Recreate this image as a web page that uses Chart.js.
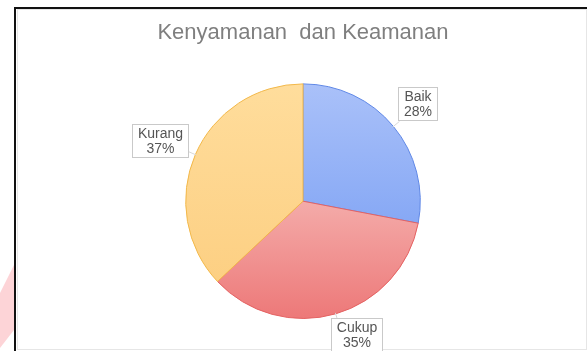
<!DOCTYPE html>
<html><head><meta charset="utf-8">
<script src="https://cdn.jsdelivr.net/npm/chart.js@4/dist/chart.umd.min.js"></script>
<style>
html,body{margin:0;padding:0;background:#fff;overflow:hidden}
#wrap{position:relative;width:587px;height:351px}
#pink{position:absolute;left:0;top:0;width:14px;height:351px;background:#fdd4d7;clip-path:polygon(0 293px,14px 265px,14px 330px,0 348px)}
#frameL{position:absolute;left:14px;top:7px;width:2px;height:344px;background:#111}
#frameT{position:absolute;left:14px;top:7px;width:573px;height:2px;background:#111}
#box{position:absolute;left:17px;top:9px;width:568px;height:339px;border:1px solid #e6e6e6}
canvas{position:absolute;left:0;top:0}
</style></head>
<body>
<div id="wrap">
<div id="pink"></div><div id="box"></div><div id="frameL"></div><div id="frameT"></div>
<canvas id="c" width="587" height="351"></canvas>
</div>
<script>
const categories = ['Baik', 'Cukup', 'Kurang'];
const percentages = [28, 35, 37];
const titleText = 'Kenyamanan  dan Keamanan';

const gradStops = [
  [[0, '#aac1f9'], [1, '#6e97f2']],
  [[0, '#f8d2d0'], [0.5, '#f4aba9'], [1, '#ed7878']],
  [[0, '#ffdd9c'], [1, '#fccd7e']]
];
const borderCols = ['#6088e6', '#e46262', '#f2b84a'];
// small label placement nudges (px), style only
const labelNudge = [[0, -3], [13, -7], [0, 1]];

function sliceFill(context) {
  const chart = context.chart;
  const a = chart.chartArea;
  if (!a) return '#ccc';
  const g = chart.ctx.createLinearGradient(0, a.top, 0, a.bottom);
  gradStops[context.dataIndex].forEach(s => g.addColorStop(s[0], s[1]));
  return g;
}

const callouts = {
  id: 'callouts',
  afterDatasetsDraw(chart) {
    const ctx = chart.ctx;
    const meta = chart.getDatasetMeta(0);
    ctx.save();
    ctx.font = '14px "Liberation Sans", Arial, sans-serif';
    meta.data.forEach((arc, i) => {
      const p = arc.getProps(['x', 'y', 'startAngle', 'endAngle', 'outerRadius'], true);
      const mid = (p.startAngle + p.endAngle) / 2;
      const c = Math.cos(mid), s = Math.sin(mid);
      const lines = [categories[i], percentages[i] + '%'];
      const tw = Math.max(...lines.map(l => ctx.measureText(l).width));
      const w = Math.round(tw + 11), lh = 15, h = lines.length * lh + 3;
      const d = p.outerRadius + 6 + Math.abs(c) * w / 2 + Math.abs(s) * h / 2;
      const cx = p.x + c * d + labelNudge[i][0], cy = p.y + s * d + labelNudge[i][1];
      const bx = Math.round(cx - w / 2) + 0.5, by = Math.round(cy - h / 2) + 0.5;
      ctx.strokeStyle = '#d8d8d8';
      ctx.lineWidth = 1;
      ctx.beginPath();
      ctx.moveTo(p.x + c * (p.outerRadius - 1), p.y + s * (p.outerRadius - 1));
      ctx.lineTo(p.x + c * (p.outerRadius + 8), p.y + s * (p.outerRadius + 8));
      ctx.stroke();
      ctx.fillStyle = '#ffffff';
      ctx.fillRect(bx, by, w, h);
      ctx.strokeStyle = '#c9c9c9';
      ctx.strokeRect(bx, by, w, h);
      ctx.fillStyle = '#555555';
      ctx.textAlign = 'center';
      ctx.textBaseline = 'middle';
      lines.forEach((l, k) => ctx.fillText(l, bx + w / 2, by + 1.5 + lh / 2 + k * lh + 1));
    });
    ctx.restore();
  }
};

new Chart(document.getElementById('c'), {
  type: 'pie',
  data: {
    labels: categories,
    datasets: [{
      data: percentages,
      backgroundColor: sliceFill,
      borderColor: borderCols,
      borderWidth: 1
    }]
  },
  options: {
    responsive: false,
    animation: false,
    layout: { padding: { left: 19, right: 0, top: 0, bottom: 32 } },
    plugins: {
      legend: { display: false },
      tooltip: { enabled: false },
      title: {
        display: true,
        text: titleText,
        color: '#7f7f7f',
        font: { family: '"Liberation Sans", Arial, sans-serif', size: 22, weight: 'normal', lineHeight: 1.2 },
        padding: { top: 20, bottom: 37 }
      }
    }
  },
  plugins: [callouts]
});
</script>
</body></html>
